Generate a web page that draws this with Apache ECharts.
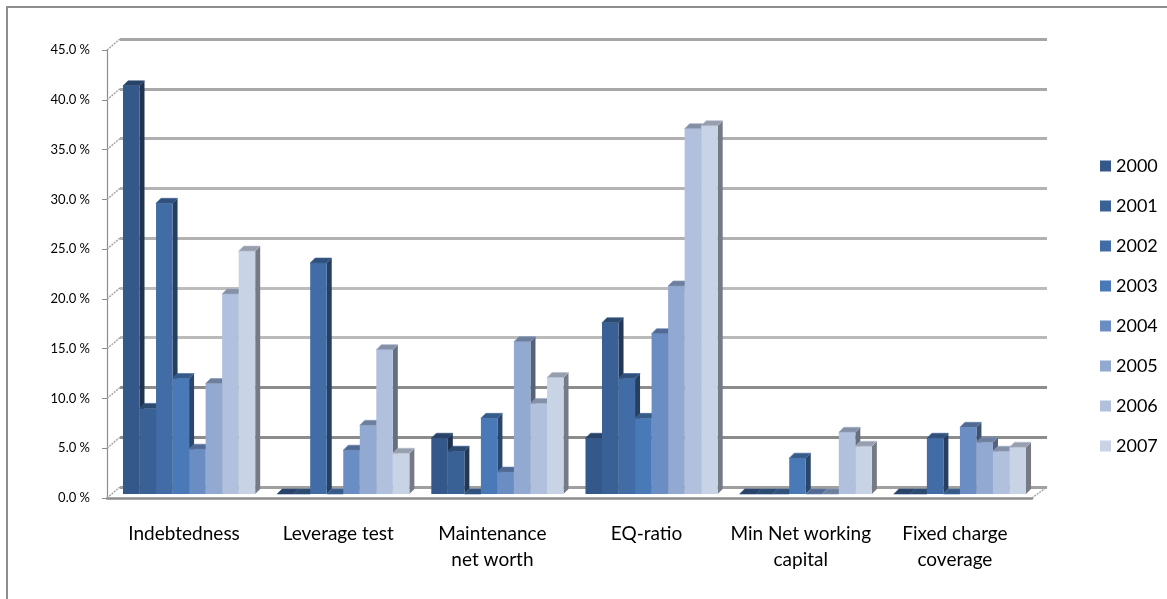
<!DOCTYPE html>
<html>
<head>
<meta charset="utf-8">
<script src="https://cdn.jsdelivr.net/npm/echarts@6/dist/echarts.min.js"></script>
<style>
  html, body { margin: 0; padding: 0; background: #fff; }
  #chart { width: 1167px; height: 599px; }
</style>
</head>
<body>
<div id="chart"></div>
<script>
// Covenant test failure rates by year
const categories = ['Indebtedness', 'Leverage test', 'Maintenance\nnet worth', 'EQ-ratio', 'Min Net working\ncapital', 'Fixed charge\ncoverage'];
const years = ['2000', '2001', '2002', '2003', '2004', '2005', '2006', '2007'];
const v2000 = [41.0, 0, 5.6, 5.6, 0, 0];
const v2001 = [8.6, 0, 4.3, 17.2, 0, 0];
const v2002 = [29.2, 23.2, 0, 11.6, 0, 5.6];
const v2003 = [11.6, 0, 7.6, 7.6, 3.6, 0];
const v2004 = [4.5, 4.4, 2.2, 16.1, 0, 6.7];
const v2005 = [11.1, 6.9, 15.3, 20.9, 0, 5.2];
const v2006 = [20.1, 14.5, 9.1, 36.7, 6.2, 4.3];
const v2007 = [24.4, 4.1, 11.7, 37.0, 4.8, 4.7];
const yTicks = [0, 5, 10, 15, 20, 25, 30, 35, 40, 45];

const seriesValues = [v2000, v2001, v2002, v2003, v2004, v2005, v2006, v2007];
const colors = ['#35588a', '#3a6195', '#416ca5', '#4979b6', '#6a8dc4', '#92a9d1', '#b0c0dd', '#c9d3e6'];
const gridColors = ['#a0a0a0', '#8c8c8c', '#8c8c8c', '#bababa', '#bcbcbc', '#b2b2b2', '#b4b4b4', '#b0b0b0', '#a8a8a8', '#a6a6a6'];

const FONT = 'Lato, "Open Sans", sans-serif';
const DEPTH_X = 5, DEPTH_Y = -5;      // bar depth offset
const WALL_X = 13, WALL_Y = -11;      // front plane to back wall
const BAR_FRAC = 0.1072;              // bar width as a share of a category

function shade(hex, f) {
  const n = parseInt(hex.slice(1), 16);
  let r = (n >> 16) & 255, g = (n >> 8) & 255, b = n & 255;
  const t = f < 0 ? 0 : 255, p = Math.abs(f);
  r = Math.round((t - r) * p + r);
  g = Math.round((t - g) * p + g);
  b = Math.round((t - b) * p + b);
  return 'rgb(' + r + ',' + g + ',' + b + ')';
}

function prismRenderer(si) {
  return function (params, api) {
    const cat = api.value(0), val = api.value(1);
    const base = api.coord([cat, 0]);
    const top = api.coord([cat, val]);
    const bw = api.size([1, 0])[0] * BAR_FRAC;
    const x0 = base[0] - 4 * bw + si * bw;
    const x1 = x0 + bw;
    const c = colors[si];
    return {
      type: 'group',
      children: [
        { type: 'polygon', z2: si * 3,
          shape: { points: [[x1, top[1]], [x1 + DEPTH_X, top[1] + DEPTH_Y], [x1 + DEPTH_X, base[1] + DEPTH_Y], [x1, base[1]]] },
          style: { fill: shade(c, -0.42) } },
        { type: 'rect', z2: si * 3 + 1,
          shape: { x: x0, y: top[1], width: bw, height: base[1] - top[1] },
          style: { fill: c } },
        { type: 'polygon', z2: si * 3 + 2,
          shape: { points: [[x0, top[1]], [x0 + DEPTH_X, top[1] + DEPTH_Y], [x1 + DEPTH_X, top[1] + DEPTH_Y], [x1, top[1]]] },
          style: { fill: shade(c, -0.25), stroke: shade(c, -0.1), lineWidth: 0.6 } }
      ]
    };
  };
}

const barSeries = years.map(function (y, si) {
  return {
    name: y,
    type: 'custom',
    xAxisIndex: 1,
    yAxisIndex: 1,
    color: colors[si],
    renderItem: prismRenderer(si),
    encode: { x: 0, y: 1 },
    data: seriesValues[si].map(function (v, ci) { return [ci, v]; }),
    z: 5
  };
});

// Side wall connectors and floor edges
const wallSeries = {
  type: 'custom',
  xAxisIndex: 0,
  yAxisIndex: 0,
  silent: true,
  renderItem: function (params, api) {
    const cs = params.coordSys;
    const v = api.value(0);
    const y = api.coord([0, v])[1];
    const children = [{
      type: 'line',
      shape: { x1: cs.x, y1: y, x2: cs.x + WALL_X, y2: y + WALL_Y },
      style: { stroke: '#a6a6a6', lineWidth: 1.5, lineDash: [2, 1] }
    }];
    if (v === 0) {
      children.push({
        type: 'line',
        shape: { x1: cs.x + cs.width, y1: y, x2: cs.x + cs.width + WALL_X + 2, y2: y + WALL_Y },
        style: { stroke: '#a6a6a6', lineWidth: 1.5, lineDash: [2, 1] }
      });
    }
    return { type: 'group', children: children };
  },
  encode: { y: 0 },
  data: yTicks.map(function (t) { return [t]; }),
  z: 1
};

const chart = echarts.init(document.getElementById('chart'));
chart.setOption({
  animation: false,
  backgroundColor: '#fff',
  textStyle: { fontFamily: FONT },
  graphic: [{
    type: 'rect', silent: true,
    shape: { x: 7, y: 7, width: 1400, height: 800 },
    style: { fill: null, stroke: '#8e8e8e', lineWidth: 2 }
  }],
  legend: {
    orient: 'vertical',
    left: 1095,
    top: 151,
    itemWidth: 11,
    itemHeight: 11,
    itemGap: 20,
    icon: 'rect',
    textStyle: { fontFamily: FONT, fontSize: 18, color: '#000', lineHeight: 20 },
    data: years
  },
  grid: [
    { left: 107, right: 135, top: 50, bottom: 101 },   // front plane
    { left: 112, right: 130, top: 46, bottom: 105 },   // bar plane
    { left: 120, right: 120, top: 39, bottom: 112 }    // back wall
  ],
  xAxis: [
    { type: 'category', gridIndex: 0, data: categories,
      axisLine: { lineStyle: { color: '#8c8c8c', width: 2.5 } },
      axisTick: { length: 5, lineStyle: { color: '#8c8c8c', width: 1.5 } },
      axisLabel: { margin: 23, fontFamily: FONT, fontSize: 19, color: '#000', lineHeight: 26, interval: 0 } },
    { type: 'category', gridIndex: 1, data: categories, show: false },
    { type: 'category', gridIndex: 2, data: categories, show: false }
  ],
  yAxis: [
    { type: 'value', gridIndex: 0, min: 0, max: 45, interval: 5,
      axisLine: { show: true, lineStyle: { color: '#8c8c8c', width: 1.2 } },
      axisTick: { show: true, length: 5, lineStyle: { color: '#8c8c8c' } },
      splitLine: { show: false },
      axisLabel: { margin: 17, fontFamily: FONT, fontSize: 13, color: '#000',
        formatter: function (v) { return v.toFixed(1) + ' %'; } } },
    { type: 'value', gridIndex: 1, min: 0, max: 45, interval: 5, show: false, splitLine: { show: false } },
    { type: 'value', gridIndex: 2, min: 0, max: 45, interval: 5,
      axisLine: { show: false }, axisTick: { show: false }, axisLabel: { show: false },
      splitLine: { show: true, lineStyle: { color: gridColors, width: 3 } } }
  ],
  series: [wallSeries].concat(barSeries)
});
</script>
</body>
</html>
